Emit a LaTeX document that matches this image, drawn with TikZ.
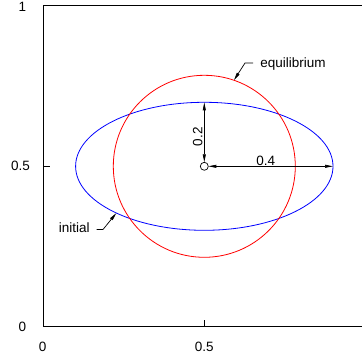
\documentclass[tikz,border=0pt]{standalone}
\usepackage{fontspec}
\setmainfont{Liberation Sans}
\usetikzlibrary{arrows.meta,shapes.geometric}
\begin{document}
\begin{tikzpicture}[x=1pt,y=1pt,
  lbl/.style={inner sep=0pt,font=\fontsize{13.5}{16}\selectfont},
  frame/.style={black,line width=0.9pt},
  curve/.style={line width=0.8pt,inner sep=0pt,outer sep=0pt},
  dim/.style={black,line width=0.7pt,{Triangle[length=8pt,width=3pt]}-{Triangle[length=8pt,width=3pt]}},
  lead/.style={black,line width=0.7pt,-{Triangle[length=8pt,width=3pt]}}]
\useasboundingbox (0,0) rectangle (362,356);
\begin{scope}
\clip (0,0) rectangle (362,356);
% frame
\draw[frame] (43.3,350.3) -- (365.3,350.3) -- (365.3,29.3) -- (43.3,29.3) -- cycle;
\end{scope}
% ticks
\coordinate (ty0) at (43.3,189.7);
\coordinate (ty1) at (50,189.7);
\coordinate (tx0) at (204.3,29.3);
\coordinate (tx1) at (204.3,35.5);
\draw[frame] (ty0) -- (ty1);
\draw[frame] (tx0) -- (tx1);
% tick labels
\node[lbl] (ly1) at (22.3,349.3) {1};
\node[lbl] (ly5) at (20.5,189.7) {0.5};
\node[lbl] (ly0) at (22.5,29.5) {0};
\node[lbl] (lx0) at (42.7,9.3) {0};
\node[lbl] (lx5) at (204.3,9.3) {0.5};
% curves
\node[curve,draw=blue,ellipse,minimum width=257.4pt,minimum height=128pt] (init) at (204.3,189.7) {};
\node[curve,draw=red,circle,minimum size=182pt] (eq) at (204.3,189.7) {};
% center marker
\node[draw,black,line width=0.7pt,circle,minimum size=8pt,inner sep=0pt,outer sep=0pt] (c) at (204.3,189.7) {};
% dimensions
\draw[dim] (c.north) -- (init.north);
\draw[dim] (c.east) -- (init.east);
\node[lbl,rotate=90] (d2) at (197.8,219.3) {0.2};
\node[lbl] (d4) at (265.7,195.2) {0.4};
% leaders
\node[lbl,anchor=base west] (eqlab) at (260.2,288.7) {equilibrium};
\coordinate (eqs) at (253,293);
\coordinate (eqk) at (245,293);
\draw[lead] (eqs) -- (eqk) -- (eq.71);
\node[lbl,anchor=base east] (inlab) at (89.8,123.5) {initial};
\coordinate (ins) at (96.5,126.5);
\coordinate (ink) at (103,126.5);
\draw[lead] (ins) -- (ink) -- (init.208);
\end{tikzpicture}
\end{document}
